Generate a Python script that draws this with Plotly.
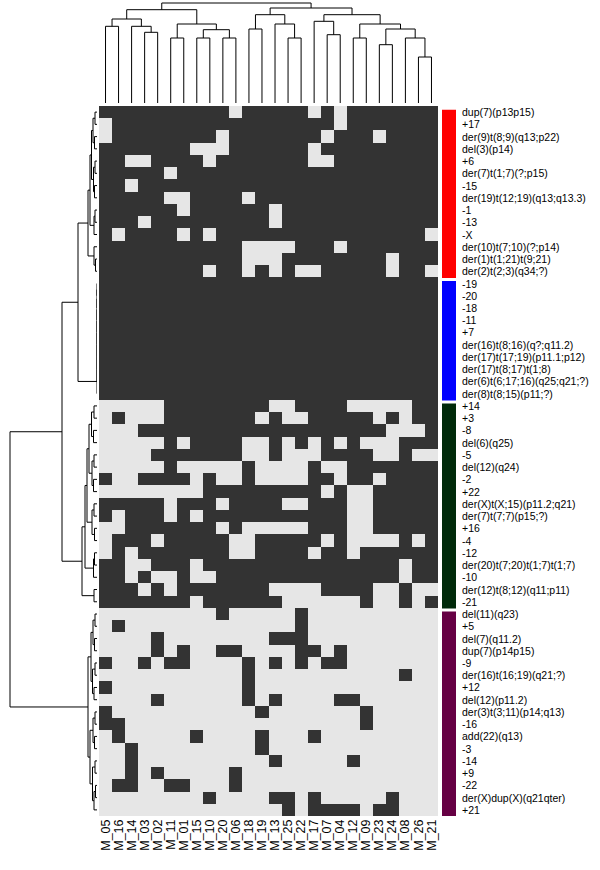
import plotly.graph_objects as go

# ---------------- data ----------------
col_labels = ["M_05", "M_16", "M_14", "M_03", "M_02", "M_11", "M_01", "M_15", "M_10", "M_20",
              "M_06", "M_18", "M_19", "M_13", "M_25", "M_22", "M_17", "M_07", "M_04", "M_12",
              "M_09", "M_23", "M_24", "M_08", "M_26", "M_21"]

row_labels = [
    "dup(7)(p13p15)", "+17", "der(9)t(8;9)(q13;p22)", "del(3)(p14)", "+6", "der(7)t(1;7)(?;p15)",
    "-15", "der(19)t(12;19)(q13;q13.3)", "-1", "-13", "-X", "der(10)t(7;10)(?;p14)",
    "der(1)t(1;21)t(9;21)", "der(2)t(2;3)(q34;?)",
    "-19", "-20", "-18", "-11", "+7", "der(16)t(8;16)(q?;q11.2)", "der(17)t(17;19)(p11.1;p12)",
    "der(17)t(8;17)t(1;8)", "der(6)t(6;17;16)(q25;q21;?)", "der(8)t(8;15)(p11;?)",
    "+14", "+3", "-8", "del(6)(q25)", "-5", "del(12)(q24)", "-2", "+22", "der(X)t(X;15)(p11.2;q21)",
    "der(7)t(7;7)(p15;?)", "+16", "-4", "-12", "der(20)t(7;20)t(1;7)t(1;7)", "-10",
    "der(12)t(8;12)(q11;p11)", "-21",
    "del(11)(q23)", "+5", "del(7)(q11.2)", "dup(7)(p14p15)", "-9", "der(16)t(16;19)(q21;?)", "+12",
    "del(12)(p11.2)", "der(3)t(3;11)(p14;q13)", "-16", "add(22)(q13)", "-3", "-14", "+9", "-22",
    "der(X)dup(X)(q21qter)", "+21",
]

group_sizes = [14, 10, 17, 17]
group_colors = ["#FF0000", "#0000FF", "#002A0A", "#660044"]

# 1 = present (dark), 0 = absent (light)
matrix_rows = [
    "11111111110111110101111111",
    "01111111111111111101111111",
    "01111111101111111011101111",
    "11111110001111110111111111",
    "11001111011111110011111111",
    "11111011111111111111111111",
    "11011111111111111111111111",
    "11111001111011111111111111",
    "11111101111110111111111111",
    "11101111111110111111111111",
    "10111101011111111111111110",
    "11111111111000011101111111",
    "11111111111000111111110111",
    "11111111011010100111110110",
    "11111111111111111111111111",
    "11111111111111111111111111",
    "11111111111111111111111111",
    "11111111111111111111111111",
    "11111111111111111111111111",
    "11111111111111111111111111",
    "11111111111111111111111111",
    "11111111111111111111111111",
    "11111111111111111111111111",
    "11111111111111111111111111",
    "00000111111110011110000011",
    "01000111111101001111101011",
    "00011111111111111111110001",
    "00000101111001010101000111",
    "00001111111001000111100100",
    "00000100000100001001111111",
    "10011110100100001101101111",
    "00000000111111111010011111",
    "11111011101111001110011111",
    "10111010111111111110011111",
    "00111111101000001110011111",
    "01110111110011111010000101",
    "01011111110011110110111111",
    "11001110111111111111111011",
    "11010010011111111111111011",
    "11101011111110000111100100",
    "11111110111111000000100101",
    "00000000010000010000000000",
    "01000000000000010000000000",
    "00001000000001110000000000",
    "00001010011000011010000000",
    "10010110000101010110000000",
    "00000000000100000000000100",
    "10000000000100000000000000",
    "00001000000101000011000000",
    "10000000000010000000100000",
    "11000000000000000000100000",
    "01000001000010001000000000",
    "00100000000010000000000000",
    "00100000000001000001000000",
    "00101000001000000000000000",
    "01100110001000000000000000",
    "00000000100001101000001000",
    "00000000000000101111011000",
]

# column dendrogram: [left, right, height]
col_tree = [
    [[[0, 1, 76.7], [2, [3, 4, 70.7], 76.7], 84.0],
     [[5, 6, 65.0], [[7, 8, 65.0], [9, 10, 65.0], 73.3], 79.0], 93.3],
    [[[11, 12, 74.0], [13, [14, 15, 65.0], 79.0], 88.3],
     [[16, [17, 18, 68.3], 81.7],
      [[19, 20, 65.0], [[21, 22, 58.3], [23, [24, 25, 46.0], 65.0], 74.0], 79.0], 88.3], 95.0],
    100.0]

# row dendrogram
a1 = [[0, 1, 2.0], [2, 3, 2.5], 4.0]
a2 = [[4, 5, 2.0], [6, 7, 2.5], 3.5]
b1 = [[8, 9, 2.0], 10, 3.0]
b2 = [11, [12, 13, 1.5], 3.0]
red_tree = [[[a1, a2, 5.5], b1, 7.0], b2, 9.0]
blue_tree = [[[[[[[[[14, 15, 0.0], 16, 0.0], 17, 0.0], 18, 0.0], 19, 0.0], 20, 0.0], 21, 0.0], 22, 0.0], 23, 0.0]
g1 = [[24, 25, 3.0], [26, 27, 3.5], 5.5]
g2 = [[28, 29, 3.0], [30, 31, 3.5], 5.0]
g3 = [[32, 33, 3.0], [34, 35, 2.5], 5.0]
g4 = [[36, 37, 2.5], 38, 3.5]
g5 = [39, 40, 3.0]
green_tree = [[[[g1, g2, 8.0], g3, 10.0], g4, 12.0], g5, 15.0]
purple_tree = [[[[41, 42, 2.0], [43, 44, 2.5], 4.0], [[45, 46, 2.0], [47, 48, 3.0], 4.5], 6.0],
               [[[49, 50, 2.0], [51, 52, 2.5], 4.0], [[53, 54, 2.0], [[55, 56, 1.5], 57, 3.0], 4.5], 7.0], 9.0]
row_tree = [[[red_tree, blue_tree, 19.0], green_tree, 35.0], purple_tree, 87.0]

# ---------------- helpers ----------------
def dendro(node):
    if isinstance(node, int):
        return float(node), 0.0, []
    l, r, h = node
    pl, hl, sl = dendro(l)
    pr, hr, sr = dendro(r)
    segs = sl + sr + [[(pl, hl), (pl, h), (pr, h), (pr, hr)]]
    return (pl + pr) / 2.0, h, segs

def seg_xy(segs, swap):
    xs, ys = [], []
    for s in segs:
        for p, h in s:
            if swap:
                xs.append(h); ys.append(p)
            else:
                xs.append(p); ys.append(h)
        xs.append(None); ys.append(None)
    return xs, ys

W, H = 600, 870
def px(x): return x / W
def py(y): return 1 - y / H

z = [[int(ch) for ch in row] for row in matrix_rows]
nrow, ncol = len(z), len(col_labels)

fig = go.Figure()
fig.add_trace(go.Heatmap(
    z=z, x=list(range(ncol)), y=list(range(nrow)),
    colorscale=[[0, "#E6E6E6"], [1, "#333333"]], zmin=0, zmax=1,
    showscale=False, hoverinfo="skip", xaxis="x", yaxis="y"))

_, _, csegs = dendro(col_tree)
cx, cy = seg_xy(csegs, swap=False)
fig.add_trace(go.Scatter(x=cx, y=cy, mode="lines", line=dict(color="#000000", width=1),
                         xaxis="x2", yaxis="y2", hoverinfo="skip", showlegend=False))

_, _, rsegs = dendro(row_tree)
rx, ry = seg_xy(rsegs, swap=True)
fig.add_trace(go.Scatter(x=rx, y=ry, mode="lines", line=dict(color="#000000", width=1),
                         xaxis="x3", yaxis="y3", hoverinfo="skip", showlegend=False))

# side colour bar per group
shapes = []
start = 0
for size, color in zip(group_sizes, group_colors):
    shapes.append(dict(type="rect", xref="paper", yref="y",
                       x0=px(442), x1=px(456), y0=start - 0.5 + 0.3, y1=start + size - 0.5 + 0.05,
                       fillcolor=color, line=dict(width=0), layer="above"))
    start += size

annotations = []
for i, lab in enumerate(row_labels):
    annotations.append(dict(x=px(460), xref="paper", y=i, yref="y", text=lab, showarrow=False,
                            xanchor="left", yanchor="middle",
                            font=dict(family="Liberation Sans, Arial", size=10.5, color="#000000")))

hm_y = [py(816), py(106)]
fig.update_layout(
    width=W, height=H, margin=dict(l=0, r=0, t=0, b=0),
    paper_bgcolor="white", plot_bgcolor="white", showlegend=False,
    shapes=shapes, annotations=annotations,
    xaxis=dict(domain=[px(99), px(438)], range=[-0.5, ncol - 0.5], tickmode="array",
               tickvals=list(range(ncol)), ticktext=col_labels, tickangle=-90, ticks="",
               showgrid=False, zeroline=False, showline=False, anchor="y",
               tickfont=dict(family="Liberation Sans, Arial", size=12.5, color="#000000")),
    yaxis=dict(domain=hm_y, range=[nrow - 0.5, -0.5], showticklabels=False, ticks="",
               showgrid=False, zeroline=False, anchor="x"),
    xaxis2=dict(domain=[px(99), px(438)], range=[-0.5, ncol - 0.5], visible=False, anchor="y2"),
    yaxis2=dict(domain=[py(103), 1.0], range=[0, 103], visible=False, anchor="x2"),
    xaxis3=dict(domain=[0, px(97)], range=[97, 0], visible=False, anchor="y3"),
    yaxis3=dict(domain=hm_y, range=[nrow - 0.5, -0.5], visible=False, anchor="x3"),
)

fig.write_html("out.html", config={"displayModeBar": False},
               post_script="document.body.style.margin='0px';")
